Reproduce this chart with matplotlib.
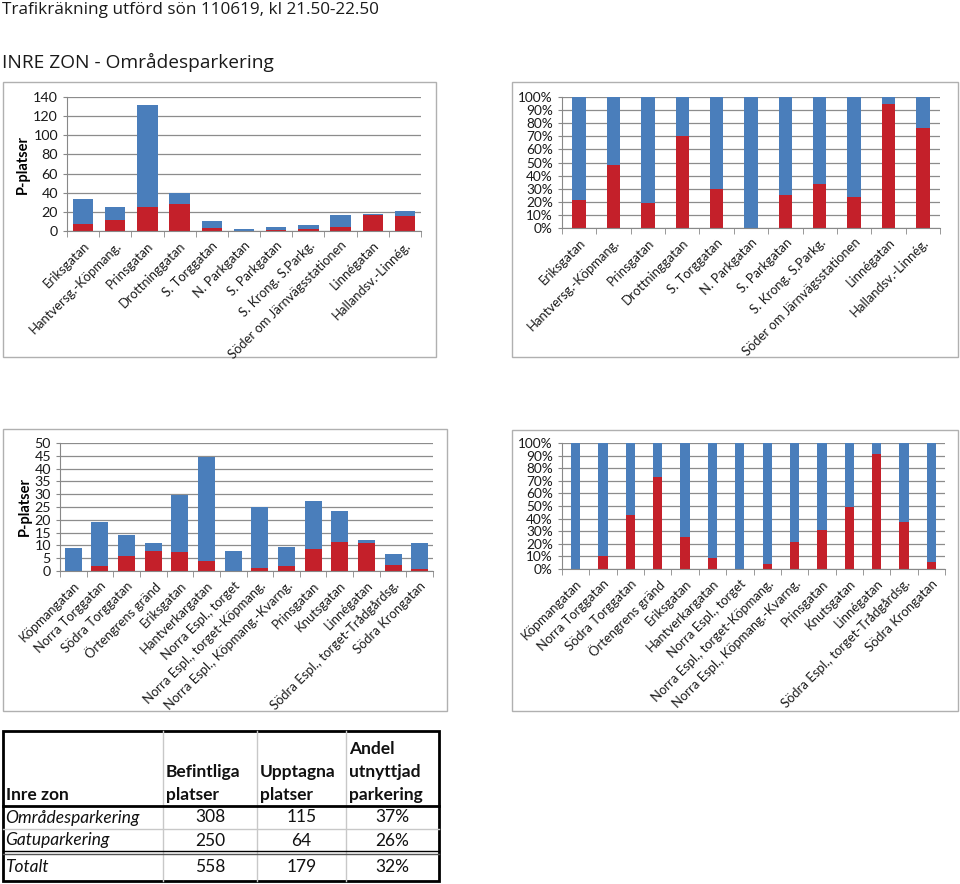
import numpy as np
import matplotlib.pyplot as plt
from matplotlib.patches import Rectangle
from matplotlib.ticker import PercentFormatter

W, H = 960, 884
blue = '#4a7ebb'
red = '#c4202a'
plt.rcParams['font.family'] = ['Lato', 'DejaVu Sans']

# Områdesparkering (inre zon)
zon_gator = ['Eriksgatan', 'Hantversg.-Köpmang.', 'Prinsgatan', 'Drottninggatan',
             'S. Torggatan', 'N. Parkgatan', 'S. Parkgatan', 'S. Krong. S.Parkg.',
             'Söder om Järnvägsstationen', 'Linnégatan', 'Hallandsv.-Linnég.']
zon_totalt = [33, 25, 132, 40, 10, 2, 4, 6, 17, 18, 21]
zon_upptagna = [7, 12, 25, 28, 3, 0, 1, 2, 4, 17, 16]

# Gatuparkering
gata_gator = ['Köpmangatan', 'Norra Torggatan', 'Södra Torggatan', 'Örtengrens gränd',
              'Eriksgatan', 'Hantverkargatan', 'Norra Espl., torget',
              'Norra Espl., torget-Köpmang.', 'Norra Espl., Köpmang.-Kvarng.',
              'Prinsgatan', 'Knutsgatan', 'Linnégatan',
              'Södra Espl., torget-Trådgårdsg.', 'Södra Krongatan']
gata_totalt = [9, 19, 14, 11, 29.5, 44.5, 8, 25, 9.5, 27.5, 23.5, 12, 6.5, 11]
gata_upptagna = [0, 2, 6, 8, 7.5, 4, 0, 1, 2, 8.5, 11.5, 11, 2.4, 0.6]

# tabell
tab_rader = ['Områdesparkering', 'Gatuparkering', 'Totalt']
tab_befintliga = [308, 250, 558]
tab_upptagna = [115, 64, 179]
tab_andel = ['37%', '26%', '32%']

fig = plt.figure(figsize=(W / 100, H / 100), dpi=100)

# overlay for frames, titles and table (pixel coordinates)
bg = fig.add_axes([0, 0, 1, 1], zorder=-1)
bg.set_xlim(0, W)
bg.set_ylim(H, 0)
bg.axis('off')


def add_ax(x0, y0, x1, y1):
    return fig.add_axes([x0 / W, 1 - y1 / H, (x1 - x0) / W, (y1 - y0) / H])


def style(ax, labels):
    n = len(labels)
    ax.set_xlim(-0.5, n - 0.5)
    ax.set_xticks(range(n))
    ax.set_xticklabels(labels, rotation=45, ha='right', rotation_mode='anchor',
                       fontsize=9.4, color='#1a1a1a')
    ax.set_xticks(np.arange(-0.5, n, 1), minor=True)
    ax.tick_params(axis='x', which='major', length=0, pad=6)
    ax.tick_params(axis='x', which='minor', length=4, color='#888888')
    ax.tick_params(axis='y', length=3, color='#888888', labelsize=10.3,
                   labelcolor='#1a1a1a')
    ax.yaxis.grid(True, color='#8c8c8c', lw=0.9)
    ax.set_axisbelow(True)
    for s in ['top', 'right']:
        ax.spines[s].set_visible(False)
    for s in ['left', 'bottom']:
        ax.spines[s].set_color('#888888')


def frame(x0, y0, x1, y1):
    bg.add_patch(Rectangle((x0, y0), x1 - x0, y1 - y0, fill=False,
                           ec='#b0b0b0', lw=1))


def counts(ax, labels, tot, upp, width):
    x = np.arange(len(labels))
    tot = np.array(tot, float)
    upp = np.array(upp, float)
    ax.bar(x, upp, width, color=red)
    ax.bar(x, tot - upp, width, bottom=upp, color=blue)
    style(ax, labels)
    ax.set_ylabel('P-platser', fontweight='bold', fontsize=10.5, labelpad=2)


def percent(ax, labels, tot, upp, width):
    x = np.arange(len(labels))
    tot = np.array(tot, float)
    andel = np.array(upp, float) / tot * 100
    ax.bar(x, andel, width, color=red)
    ax.bar(x, 100 - andel, width, bottom=andel, color=blue)
    style(ax, labels)
    ax.set_ylim(0, 100)
    ax.set_yticks(range(0, 101, 10))
    ax.yaxis.set_major_formatter(PercentFormatter(decimals=0))
    ax.tick_params(axis='y', labelsize=9.8)


# titles
bg.text(2, 10, 'Trafikräkning utförd sön 110619, kl 21.50-22.50', fontsize=12.3,
        family='Open Sans', va='center', ha='left', color='#1a1a1a')
bg.text(2, 62, 'INRE ZON - Områdesparkering', fontsize=13.8,
        family='Open Sans', va='center', ha='left', color='#1a1a1a')

# frames
frame(3, 82, 436, 357)
frame(512, 82, 958, 357)
frame(3, 429, 447, 711)
frame(512, 430, 958, 711)

ax1 = add_ax(67, 97, 421, 231)
counts(ax1, zon_gator, zon_totalt, zon_upptagna, 0.63)
ax1.set_ylim(0, 140)
ax1.set_yticks(range(0, 141, 20))

ax2 = add_ax(562, 97, 940, 228)
percent(ax2, zon_gator, zon_totalt, zon_upptagna, 0.39)

ax3 = add_ax(60, 443, 433, 571)
counts(ax3, gata_gator, gata_totalt, gata_upptagna, 0.64)
ax3.set_ylim(0, 50)
ax3.set_yticks(range(0, 51, 5))

ax4 = add_ax(562, 443, 945, 569)
percent(ax4, gata_gator, gata_totalt, gata_upptagna, 0.34)

# table
tx0, tx1, ty0, ty1 = 3, 439, 731, 881
cols = [tx0, 163, 257, 346, tx1]
for c in cols[1:-1]:
    bg.plot([c, c], [ty0, ty1], color='#c8c8c8', lw=1)
bg.plot([tx0, tx1], [829, 829], color='#c8c8c8', lw=1)
bg.plot([tx0, tx1], [806, 806], color='black', lw=2)
bg.plot([tx0, tx1], [850.5, 850.5], color='black', lw=1)
bg.plot([tx0, tx1], [853.5, 853.5], color='#555555', lw=1)
bg.add_patch(Rectangle((tx0, ty0), tx1 - tx0, ty1 - ty0, fill=False,
                       ec='black', lw=2))

hdr = ['Inre zon', 'Befintliga\nplatser', 'Upptagna\nplatser', 'Andel\nutnyttjad\nparkering']
for i, h in enumerate(hdr):
    bg.text(cols[i] + 3, 803, h, fontsize=12.5, fontweight='bold', ha='left',
            va='bottom', linespacing=1.55, color='#111111')

row_y = [817.5, 840.5, 867]
for r in range(3):
    bg.text(cols[0] + 2, row_y[r], tab_rader[r], fontsize=12.5, style='italic',
            ha='left', va='center', color='#111111')
    vals = [tab_befintliga[r], tab_upptagna[r], tab_andel[r]]
    for j, v in enumerate(vals):
        bg.text((cols[j + 1] + cols[j + 2]) / 2, row_y[r], str(v), fontsize=12.5,
                ha='center', va='center', color='#111111')

fig.savefig('out.png', dpi=100)
